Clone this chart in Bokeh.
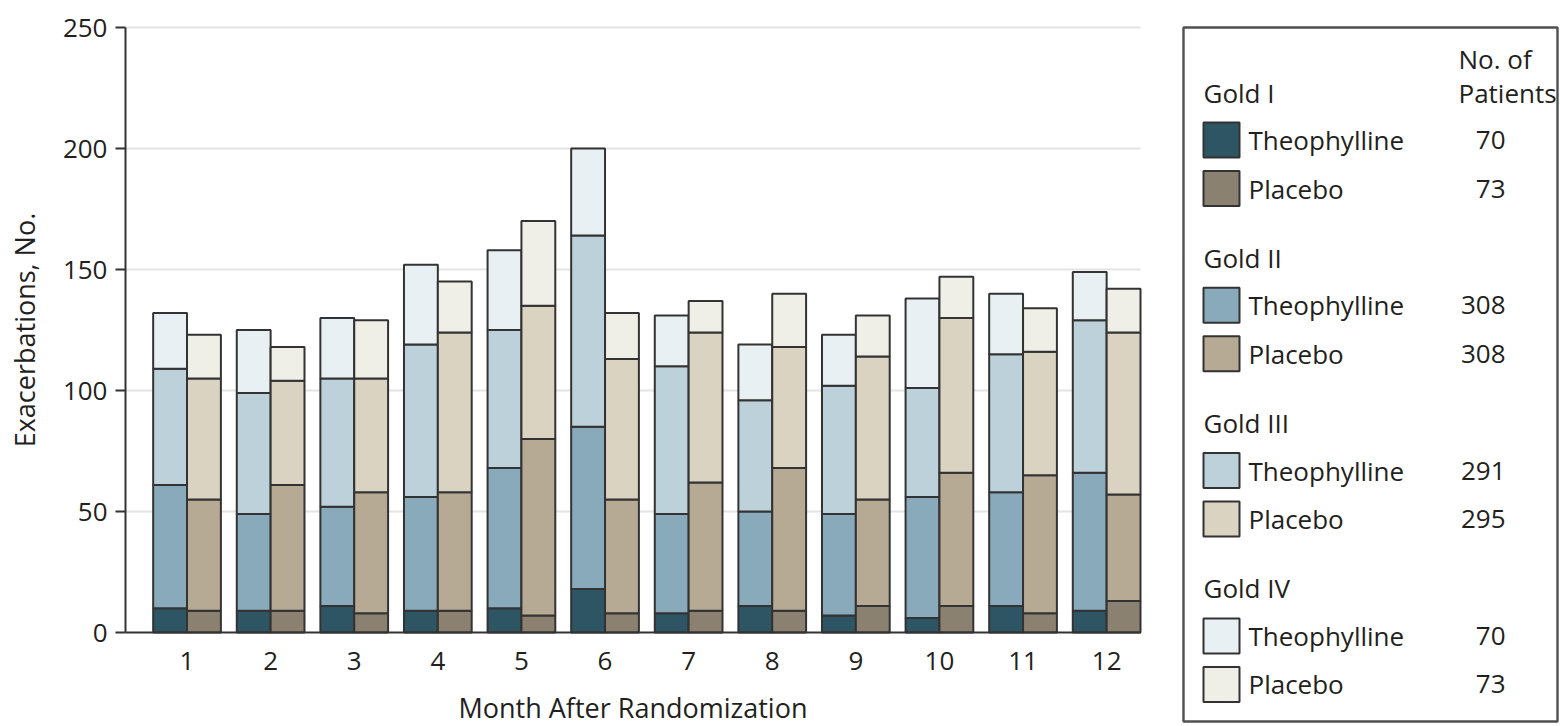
import numpy as np
from bokeh.plotting import figure
from bokeh.models import Range1d, FixedTicker, ColumnDataSource
from bokeh.core.properties import value
from bokeh.embed import file_html
from bokeh.resources import INLINE

# ---------------- data ----------------
months = list(range(1, 13))
month_labels = [str(m) for m in months]

theo_gold1 = [10, 9, 11, 9, 10, 18, 8, 11, 7, 6, 11, 9]
theo_gold2 = [51, 40, 41, 47, 58, 67, 41, 39, 42, 50, 47, 57]
theo_gold3 = [48, 50, 53, 63, 57, 79, 61, 46, 53, 45, 57, 63]
theo_gold4 = [23, 26, 25, 33, 33, 36, 21, 23, 21, 37, 25, 20]

placebo_gold1 = [9, 9, 8, 9, 7, 8, 9, 9, 11, 11, 8, 13]
placebo_gold2 = [46, 52, 50, 49, 73, 47, 53, 59, 44, 55, 57, 44]
placebo_gold3 = [50, 43, 47, 66, 55, 58, 62, 50, 59, 64, 51, 67]
placebo_gold4 = [18, 14, 24, 21, 35, 19, 13, 22, 17, 17, 18, 18]

groups = ["Gold I", "Gold II", "Gold III", "Gold IV"]
arms = ["Theophylline", "Placebo"]
patients_theo = [70, 308, 291, 70]
patients_placebo = [73, 308, 295, 73]

y_ticks = [0, 50, 100, 150, 200, 250]

theo_colors = ["#2e5563", "#88aabb", "#bdd1db", "#e9f0f3"]
placebo_colors = ["#8b8171", "#b6aa95", "#dbd3c2", "#f0efe7"]

FONT = "Open Sans"
TEXT = "#231f20"
EDGE = "#333333"

# ---------------- layout constants (pixels) ----------------
W, H = 1560, 726
PLOT_L, PLOT_R = 125, 1140          # bar area (x)
ZERO_PX, TOP_PX = 632, 27           # pixel rows of y=0 and y=250
FRAME_T = 18                        # frame covers axes texts and legend too
XA, XB = 0.264, 12.405              # month values at PLOT_L / PLOT_R
YA, YB = 0, 250

ppx = (PLOT_R - PLOT_L) / (XB - XA)
ppy = (ZERO_PX - TOP_PX) / (YB - YA)
x_start = XA - PLOT_L / ppx
x_end = XA + (W - PLOT_L) / ppx
y_start = -(H - ZERO_PX) / ppy
y_end = YB + (TOP_PX - FRAME_T) / ppy


def px_x(px):
    return XA + (px - PLOT_L) / ppx


def px_y(py):
    return (ZERO_PX - py) / ppy


p = figure(width=W, height=H,
           x_range=Range1d(x_start, x_end), y_range=Range1d(y_start, y_end),
           output_backend="svg", toolbar_location=None,
           min_border_left=0, min_border_right=0,
           min_border_top=FRAME_T, min_border_bottom=0)
p.outline_line_color = None
p.xgrid.visible = False
p.ygrid.visible = False

# horizontal grid lines limited to the bar area
grid_y = [t for t in y_ticks if t > 0]
p.segment(x0=[XA] * len(grid_y), x1=[XB] * len(grid_y), y0=grid_y, y1=grid_y,
          line_color="#e4e4e4", line_width=2, level="underlay")

bar_w = 0.405
offset = 0.2025

theo_series = [theo_gold1, theo_gold2, theo_gold3, theo_gold4]
placebo_series = [placebo_gold1, placebo_gold2, placebo_gold3, placebo_gold4]

for series, colors, off in ((theo_series, theo_colors, -offset),
                            (placebo_series, placebo_colors, offset)):
    arr = np.array(series, dtype=float)
    tops = np.cumsum(arr, axis=0)
    bottoms = tops - arr
    xs = np.array(months, dtype=float) + off
    for k in range(4):
        src = ColumnDataSource(dict(x=xs, bottom=bottoms[k], top=tops[k]))
        p.vbar(x="x", bottom="bottom", top="top", width=bar_w, source=src,
               fill_color=colors[k], line_color=EDGE, line_width=2)

# ---------------- axes ----------------
p.yaxis.fixed_location = XA
p.yaxis.bounds = (YA, YB)
p.yaxis.ticker = FixedTicker(ticks=y_ticks)
p.yaxis.minor_tick_line_color = None
p.yaxis.major_tick_in = 0
p.yaxis.major_tick_out = 10
p.yaxis.major_tick_line_color = EDGE
p.yaxis.major_tick_line_width = 2
p.yaxis.axis_line_color = EDGE
p.yaxis.axis_line_width = 2
p.yaxis.major_label_standoff = 8
p.yaxis.axis_label = "Exacerbations, No."
p.yaxis.axis_label_standoff = 17

p.xaxis.fixed_location = YA
p.xaxis.bounds = (XA, XB)
p.xaxis.ticker = FixedTicker(ticks=months)
p.xaxis.major_label_overrides = {m: lab for m, lab in zip(months, month_labels)}
p.xaxis.minor_tick_line_color = None
p.xaxis.major_tick_in = 0
p.xaxis.major_tick_out = 0
p.xaxis.major_tick_line_color = None
p.xaxis.axis_line_color = EDGE
p.xaxis.axis_line_width = 2
p.xaxis.major_label_standoff = 19
p.xaxis.axis_label = "Month After Randomization"
p.xaxis.axis_label_standoff = 16

for ax in (p.xaxis[0], p.yaxis[0]):
    ax.major_label_text_font = FONT
    ax.major_label_text_font_size = "26px"
    ax.major_label_text_color = TEXT
    ax.axis_label_text_font = FONT
    ax.axis_label_text_font_size = "27px"
    ax.axis_label_text_font_style = "normal"
    ax.axis_label_text_color = TEXT

# ---------------- legend (drawn inside the frame, right of the bars) ----------------
BOX_L, BOX_R, BOX_T, BOX_B = 1183, 1557, 27, 721
p.quad(left=[px_x(BOX_L)], right=[px_x(BOX_R)], top=[px_y(BOX_T)], bottom=[px_y(BOX_B)],
       fill_color="white", line_color="#505050", line_width=2.4)

group_y0, group_step = 92.0, 165.3
head_x, sw_l, sw_r, label_x, count_x, npat_x = 1203, 1203, 1239, 1248, 1505, 1458
SW_H = 35

sw = dict(left=[], right=[], top=[], bottom=[], color=[])
txt = dict(x=[], y=[], text=[])
cnt = dict(x=[], y=[], text=[])

txt["x"] += [px_x(npat_x), px_x(npat_x)]
txt["y"] += [px_y(58), px_y(group_y0)]
txt["text"] += ["No. of", "Patients"]

for g in range(4):
    gy = group_y0 + group_step * g
    txt["x"].append(px_x(head_x))
    txt["y"].append(px_y(gy))
    txt["text"].append(groups[g])
    for a, (cols, counts) in enumerate(((theo_colors, patients_theo),
                                         (placebo_colors, patients_placebo))):
        yy = gy + 47.5 + 48.5 * a
        sw["left"].append(px_x(sw_l))
        sw["right"].append(px_x(sw_r))
        sw["top"].append(px_y(yy - SW_H / 2))
        sw["bottom"].append(px_y(yy + SW_H / 2))
        sw["color"].append(cols[g])
        txt["x"].append(px_x(label_x))
        txt["y"].append(px_y(yy))
        txt["text"].append(arms[a])
        cnt["x"].append(px_x(count_x))
        cnt["y"].append(px_y(yy))
        cnt["text"].append(str(counts[g]))

p.quad(left="left", right="right", top="top", bottom="bottom", fill_color="color",
       line_color=EDGE, line_width=2, source=ColumnDataSource(sw))

common = dict(text_font=value(FONT), text_font_size=value("26px"),
              text_color=TEXT, text_baseline="middle")
p.text(x="x", y="y", text="text", text_align="left", source=ColumnDataSource(txt), **common)
p.text(x="x", y="y", text="text", text_align="right", source=ColumnDataSource(cnt), **common)

open("out.html", "w").write(file_html(p, INLINE))
